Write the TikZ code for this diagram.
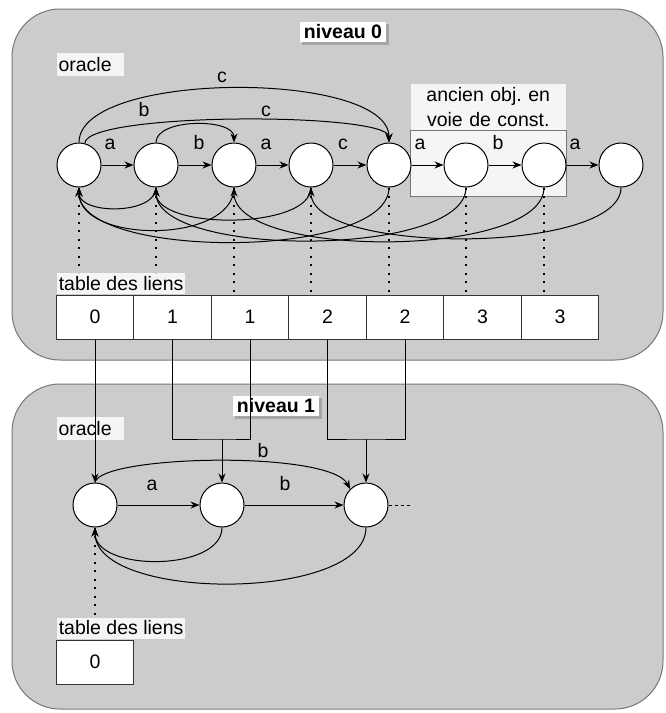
\documentclass[tikz,border=0pt]{standalone}
\usepackage{fontspec}
\setmainfont{Liberation Sans}
\usetikzlibrary{arrows.meta,shadows}
\definecolor{fondniv}{HTML}{CCCCCC}
\definecolor{fondlab}{HTML}{F5F5F5}
\definecolor{bordniv}{HTML}{777777}

\begin{document}
\frenchspacing
\begin{tikzpicture}[x=1pt, y=-1pt, line width=1pt,
  every node/.style={font=\fontsize{19.5}{23.5}\selectfont},
  niveau/.style={draw=bordniv, fill=fondniv, rounded corners=48pt},
  etat/.style={circle, draw, fill=white, minimum size=44pt, inner sep=0pt},
  fleche/.style={-{Stealth[length=9pt,width=7pt]}},
  lettre/.style={inner sep=0pt, anchor=base},
  etiq/.style={fill=fondlab, inner sep=2pt, minimum height=21pt},
  titre/.style={fill=white, font=\fontsize{19.5}{23.5}\selectfont\bfseries, inner xsep=4pt, inner ysep=3pt,
    drop shadow={shadow xshift=2.5pt, shadow yshift=-2.5pt, fill=black!45, opacity=0.6}},
  cellule/.style={draw=black!80, fill=white, minimum width=77.5pt, minimum height=44pt, inner sep=0pt},
  pointille/.style={line width=2pt, dash pattern=on 2pt off 6.5pt}]
  \useasboundingbox (0,0) rectangle (665,713);

  \draw[niveau] (12,9) rectangle (663,360);
  \draw[niveau] (12,384) rectangle (663,709);
  \node[titre] (niv0) at (343,32) {niveau 0};
  \node[titre] (niv1) at (276,406) {niveau 1};

  \node[etiq, anchor=west, text width=63pt, minimum height=23pt] (orac0) at (56,64.5) {oracle};
  \draw[draw=bordniv, fill=fondlab] (410.5,130.5) rectangle (566,196.5);
  \node[etiq, text width=151pt, align=center, minimum height=46pt, anchor=south,
    font=\fontsize{19.5}{25}\selectfont] (ancien) at (488.25,130.5) {ancien obj. en\\voie de const.};

  \node[etat] (q0) at (79,165) {};
  \node[etat] (q1) at (156,165) {};
  \node[etat] (q2) at (234,165) {};
  \node[etat] (q3) at (311,165) {};
  \node[etat] (q4) at (389,165) {};
  \node[etat] (q5) at (466,165) {};
  \node[etat] (q6) at (544,165) {};
  \node[etat] (q7) at (621,165) {};

  \draw[fleche] (q0) -- (q1);
  \draw[fleche] (q1) -- (q2);
  \draw[fleche] (q2) -- (q3);
  \draw[fleche] (q3) -- (q4);
  \draw[fleche] (q4) -- (q5);
  \draw[fleche] (q5) -- (q6);
  \draw[fleche] (q6) -- (q7);
  \node[lettre] (la1) at (110,149) {a};
  \node[lettre] (lb2) at (199,149) {b};
  \node[lettre] (la3) at (266,149) {a};
  \node[lettre] (lc4) at (343,149) {c};
  \node[lettre] (la5) at (420,149) {a};
  \node[lettre] (lb6) at (498,149) {b};
  \node[lettre] (la7) at (575,149) {a};

  \draw[fleche] (q0.north) .. controls (79,70) and (389,70) .. (q4.north);
  \draw[fleche] (q0.75) .. controls (86,112) and (389,112) .. (q4.north);
  \draw[fleche] (q1.north) .. controls (156,118) and (234,118) .. (q2.north);
  \node[lettre] (lcc) at (222,82.5) {c};
  \node[lettre] (lbb) at (144,116) {b};
  \node[lettre] (lcm) at (266,116) {c};

  \draw[fleche] (q1.south) .. controls (156,215) and (79,215) .. (q0.south);
  \draw[fleche] (q2.south) .. controls (234,244) and (79,244) .. (q0.south);
  \draw[fleche] (q3.south) .. controls (311,230) and (156,230) .. (q1.south);
  \draw[fleche] (q4.south) .. controls (389,260) and (79,260) .. (q0.south);
  \draw[fleche] (q5.south) .. controls (466,258) and (156,258) .. (q1.south);
  \draw[fleche] (q6.south) .. controls (544,259) and (234,259) .. (q2.south);
  \draw[fleche] (q7.south) .. controls (621,255) and (311,255) .. (q3.south);

  \node[cellule] (c0) at (95,317) {0};
  \node[cellule] (c1) at (172.5,317) {1};
  \node[cellule] (c2) at (250,317) {1};
  \node[cellule] (c3) at (327.5,317) {2};
  \node[cellule] (c4) at (405,317) {2};
  \node[cellule] (c5) at (482.5,317) {3};
  \node[cellule] (c6) at (560,317) {3};
  \node[etiq, anchor=south west] (liens0) at (56.25,294.5) {table des liens};

  \draw[pointille] (q0.south) -- (q0.south |- liens0.north);
  \draw[pointille] (q1.south) -- (q1.south |- liens0.north);
  \draw[pointille] (q2.south) -- (q2.south |- c0.north);
  \draw[pointille] (q3.south) -- (q3.south |- c0.north);
  \draw[pointille] (q4.south) -- (q4.south |- c0.north);
  \draw[pointille] (q5.south) -- (q5.south |- c0.north);
  \draw[pointille] (q6.south) -- (q6.south |- c0.north);

  \node[etiq, anchor=west, text width=63pt, minimum height=23pt] (orac1) at (56,428.5) {oracle};
  \node[etat] (p0) at (95,505) {};
  \node[etat] (p1) at (222,505) {};
  \node[etat] (p2) at (366,505) {};
  \coordinate (j1) at (222,439);
  \coordinate (j2) at (366,439);
  \coordinate (suite) at (412,505);

  \draw[fleche] (c0) -- (p0);
  \draw (c1.south) |- (j1) -| (c2.south);
  \draw[fleche] (j1) -- (p1);
  \draw (c3.south) |- (j2) -| (c4.south);
  \draw[fleche] (j2) -- (p2);

  \draw[fleche] (p0) -- (p1);
  \draw[fleche] (p1) -- (p2);
  \draw[fleche] (p0.north) .. controls (100,455) and (330,450) .. (p2.135);
  \draw[dash pattern=on 3pt off 3pt, line width=0.8pt] (p2) -- (suite);
  \node[lettre] (pa1) at (152,490) {a};
  \node[lettre] (pb2) at (285,490) {b};
  \node[lettre] (pbb) at (263,457) {b};

  \draw[fleche] (p1.south) .. controls (222,572) and (95,572) .. (p0.south);
  \draw[fleche] (p2.south) .. controls (366,602) and (95,602) .. (p0.south);

  \node[etiq, anchor=south west] (liens1) at (56.25,639) {table des liens};
  \node[cellule] (d0) at (95,662) {0};
  \draw[pointille] (p0.south) -- (p0.south |- liens1.north);
\end{tikzpicture}
\end{document}
